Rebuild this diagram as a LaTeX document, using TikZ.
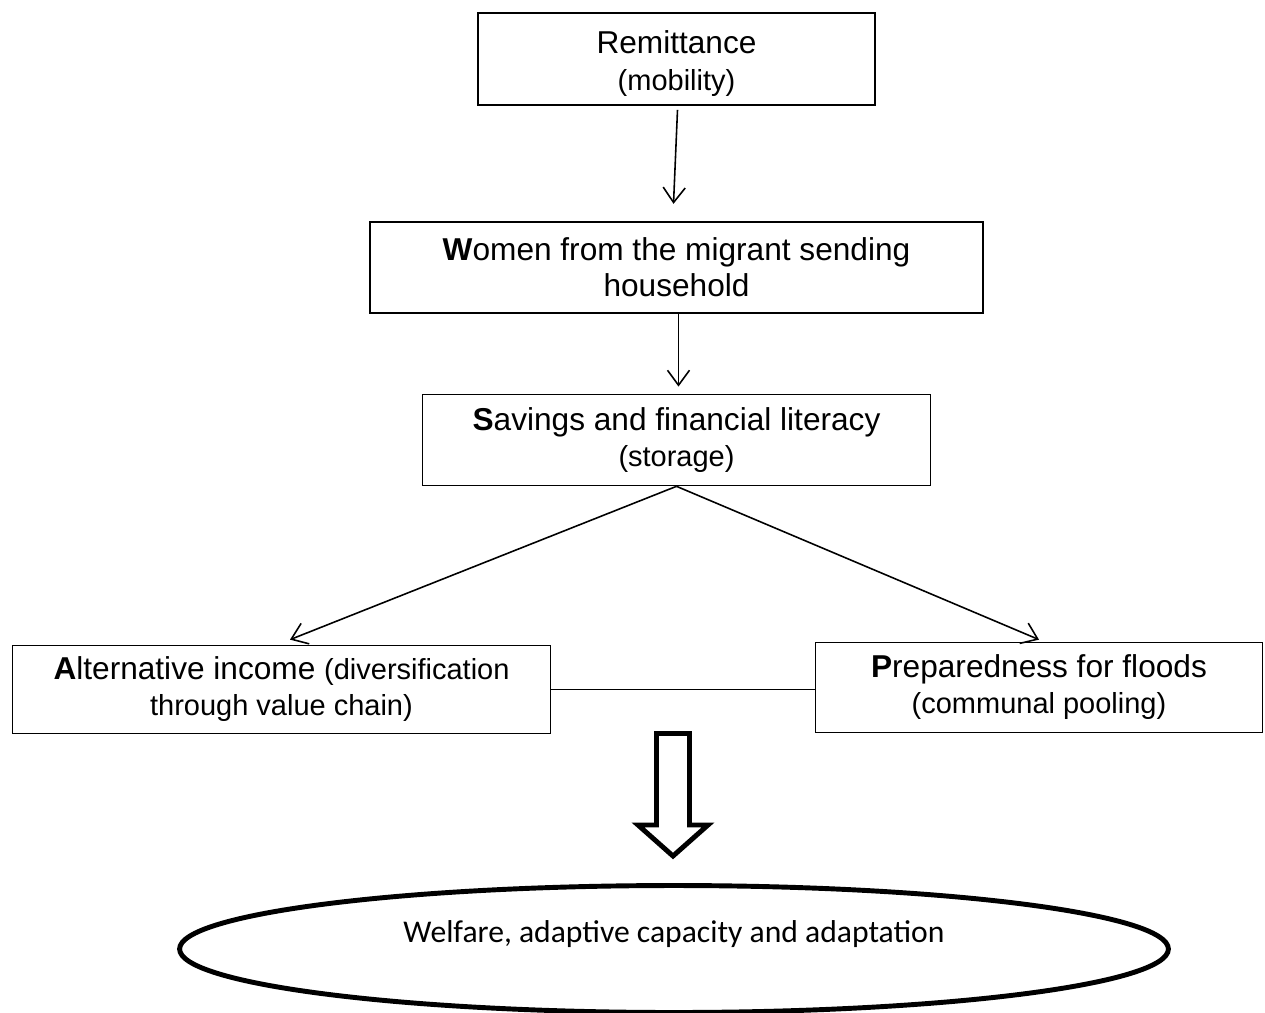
\documentclass[tikz,border=0pt]{standalone}
\usepackage{fontspec}
\setmainfont{Liberation Sans}
\newfontfamily\calfont{Carlito}
\usetikzlibrary{arrows.meta, positioning, shapes.geometric}
\newcommand{\mainsize}{\fontsize{18}{20.5}\selectfont}
\newcommand{\subsize}{\fontsize{16.5}{20.5}\selectfont}
\tikzset{
  boxK/.style={rectangle, draw=black, line width=1pt, fill=white,
               align=center, font=\mainsize, inner sep=2pt},
  arrowK/.style={-{Straight Barb[length=3mm, width=4.4mm]}, line width=0.9pt},
  linkK/.style={line width=0.9pt},
  bigArrow/.style={draw=black, fill=white, line width=2.8pt, line join=miter},
  goalK/.style={ellipse, draw=black, line width=2.8pt, inner sep=0pt},
}
\begin{document}
\begin{tikzpicture}[x=0.02cm, y=-0.02cm]
  \useasboundingbox (0,0) rectangle (1265,1012);
  \node[boxK, minimum width=7.94cm, minimum height=1.84cm] (rem) at (676.5,59)
        {\rule{0pt}{0.64cm}Remittance\\{\subsize (mobility)}};
  \node[boxK, below=2.3cm of rem, minimum width=12.26cm, minimum height=1.82cm]
        (wom) {\textbf{W}omen from the migrant sending\\household};
  \node[boxK, below=1.6cm of wom, minimum width=10.16cm, minimum height=1.82cm]
        (sav) {\textbf{S}avings and financial literacy\\{\subsize (storage)}};
  \node[boxK, minimum width=10.76cm, minimum height=1.76cm] (alt) at (281.5,689.5)
        {\textbf{A}lternative income {\subsize (diversification}\\{\subsize through value chain)}};
  \node[boxK, minimum width=8.94cm, minimum height=1.8cm] (prep) at (1039,687.5)
        {\textbf{P}reparedness for floods\\{\subsize (communal pooling)}};
  \node[goalK, minimum width=19.78cm, minimum height=2.54cm,
        label={[font=\calfont\fontsize{18}{20}\selectfont, yshift=0.3cm]center:Welfare, adaptive capacity and adaptation}]
        (goal) at (674,949) {};

  \draw[arrowK] ([xshift=0.02cm, yshift=-0.08cm]rem.south) -- ([xshift=-0.06cm, yshift=0.34cm]wom.north);
  \draw[arrowK] ([xshift=0.04cm]wom.south) -- ([xshift=0.04cm, yshift=0.14cm]sav.north);
  \draw[arrowK] (sav.south) -- ([xshift=0.17cm, yshift=0.1cm]alt.north);
  \draw[arrowK] (sav.south) -- ([yshift=0.04cm]prep.north);
  \draw[linkK] (alt.east) -- (alt.east -| prep.west);

  % hollow arrow down to the outcome
  \coordinate (bigtop) at (673,733.5);
  \draw[bigArrow] (bigtop) ++(-16.5,0) -- ++(33,0) -- ++(0,91.5) -- ++(18.5,0)
        -- ++(-35,31) -- ++(-35,-31) -- ++(18.5,0) -- cycle;
\end{tikzpicture}
\end{document}
